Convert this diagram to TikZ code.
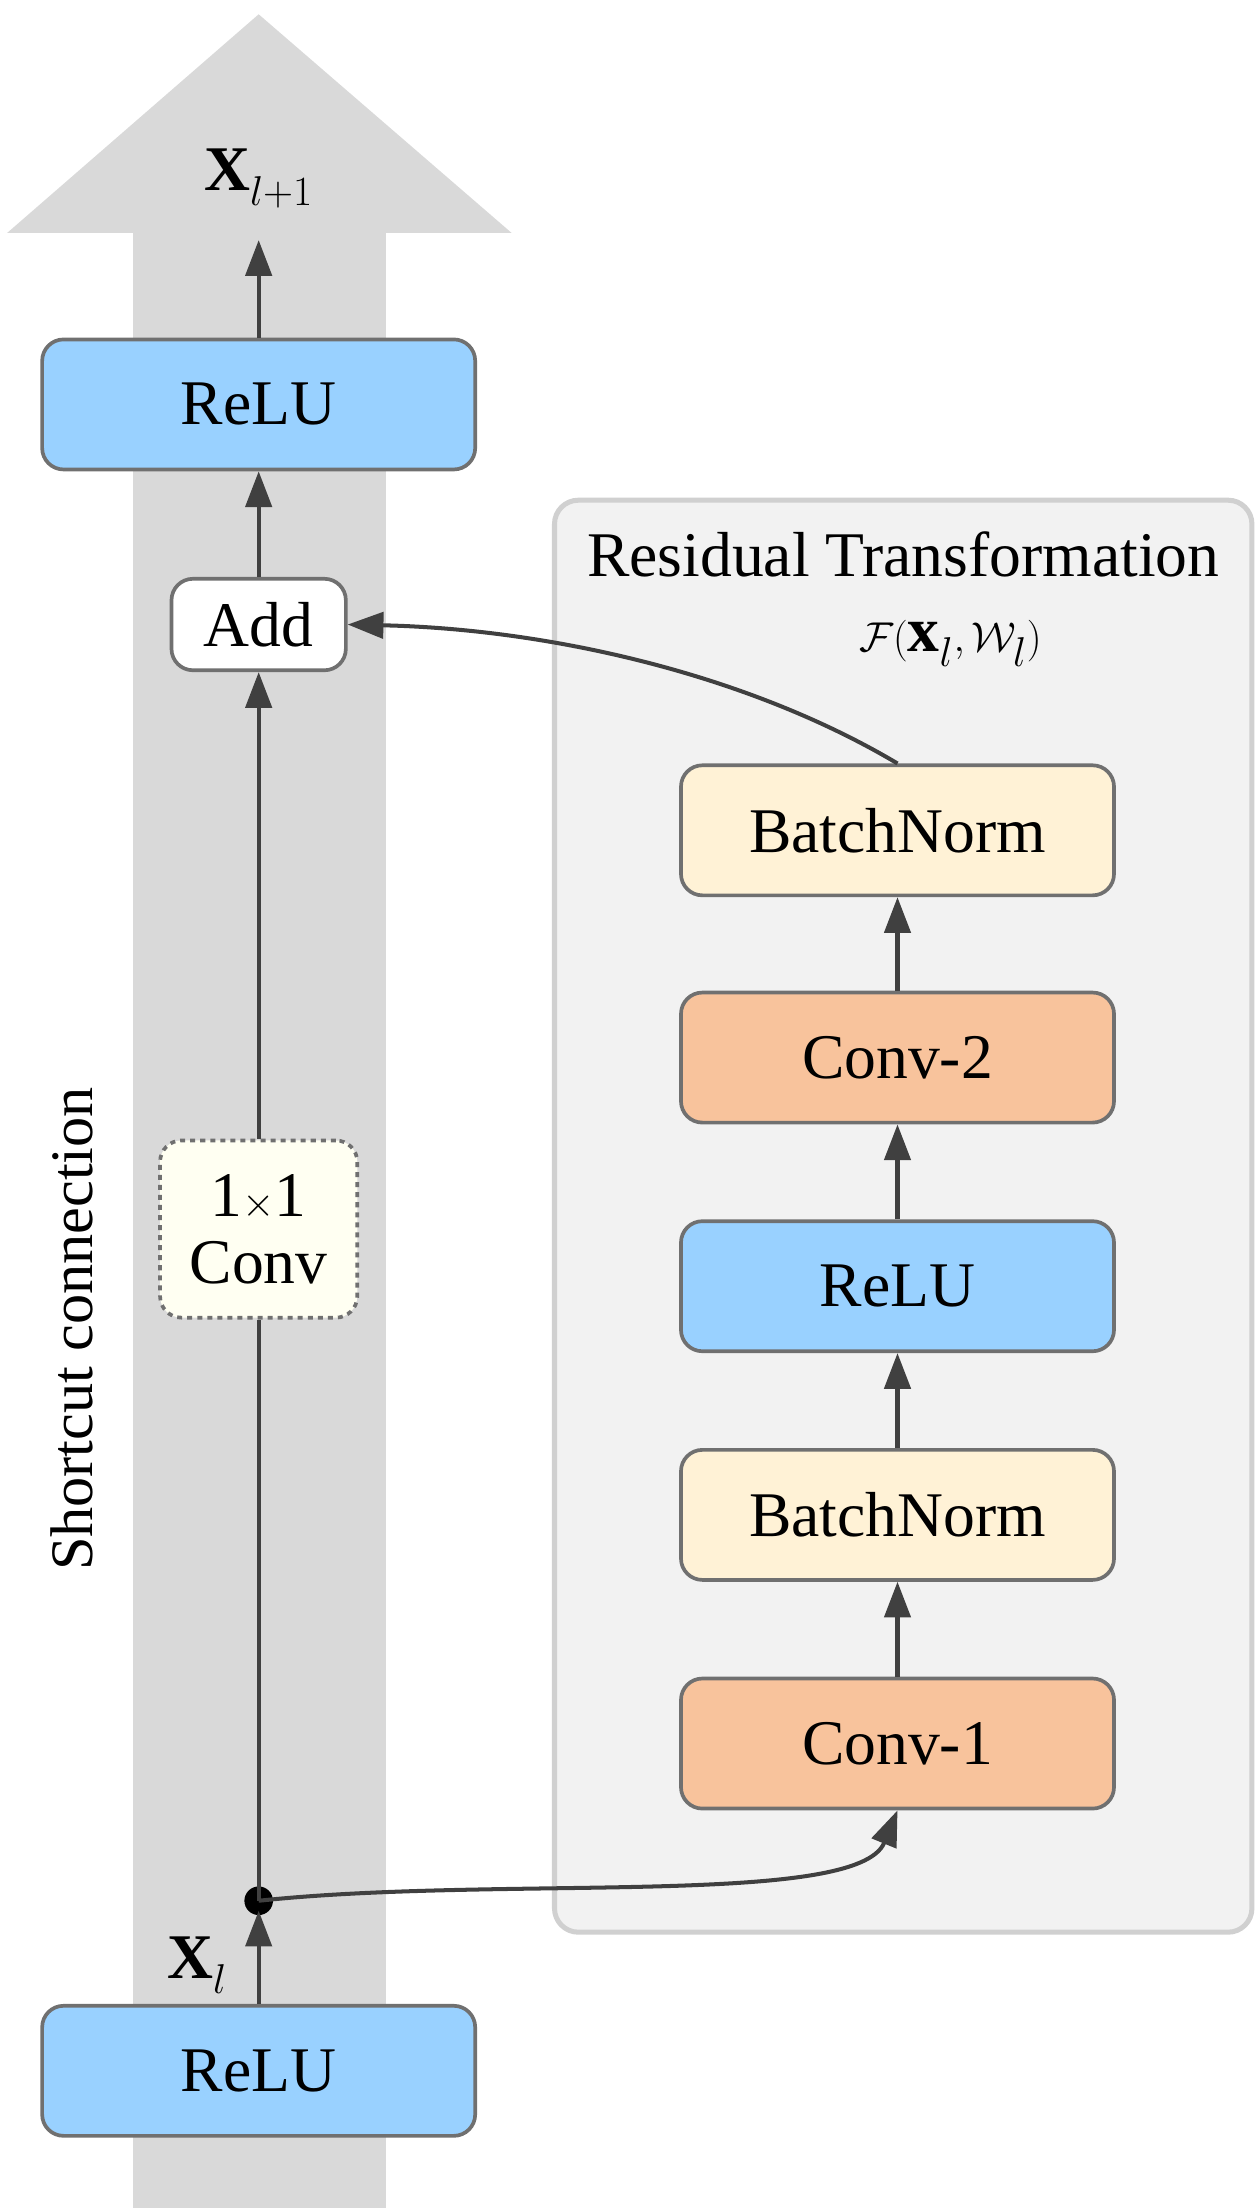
\documentclass[tikz,border=0pt]{standalone}
\usepackage{fontspec}
\setmainfont{Liberation Serif}
\usetikzlibrary{arrows.meta}
\definecolor{shaftgray}{HTML}{D9D9D9}
\definecolor{panelgray}{HTML}{F2F2F2}
\definecolor{panelline}{HTML}{D0D0D0}
\definecolor{boxline}{HTML}{707070}
\definecolor{relublue}{HTML}{99D1FF}
\definecolor{bnyellow}{HTML}{FFF2D6}
\definecolor{convorange}{HTML}{F8C39C}
\definecolor{convcream}{HTML}{FFFFF2}
\definecolor{arrowgray}{HTML}{404040}
\tikzset{
  block/.style={draw=boxline, line width=2.2pt, rounded corners=0.45cm,
    minimum width=9.09cm, minimum height=2.73cm, font=\fontsize{38}{44}\selectfont},
  flow/.style={draw=arrowgray, line width=2.4pt, -{Triangle[length=0.75cm,width=0.55cm]}},
  line/.style={draw=arrowgray, line width=2.4pt}
}
\begin{document}
\begin{tikzpicture}[x=0.03cm,y=-0.03cm]
\useasboundingbox (0,0) rectangle (880,1545);

% Shortcut arrow in background
\fill[shaftgray] (93,1545) rectangle (270,163);
\fill[shaftgray] (5,163) -- (181,10) -- (358,163) -- cycle;
\node[rotate=90, font=\fontsize{36}{42}\selectfont] (sclabel) at (50,930) {Shortcut connection};

% Residual panel
\draw[panelline, fill=panelgray, line width=3pt, rounded corners=0.5cm] (388,350) rectangle (876,1352);
\node[font=\fontsize{38}{44}\selectfont] (rtitle) at (632,388) {Residual Transformation};
\node[font=\fontsize{38}{44}\selectfont] (rfunc) at (665,450) {$\mathcal{F}(\mathbf{x}_l,\mathcal{W}_l)$};

% Shortcut path blocks
\node[block, fill=relublue] (relutop) at (181,283) {ReLU};
\node[block, fill=white, minimum width=3.66cm, minimum height=1.92cm] (add) at (181,437) {Add};
\node[block, fill=convcream, dashed, minimum width=4.14cm, minimum height=3.72cm, align=center,
  font=\fontsize{38}{40}\selectfont] (conv11) at (181,860) {1$\times$1\\Conv};
\node[block, fill=relublue] (relubot) at (181,1449) {ReLU};
\node[font=\fontsize{38}{44}\selectfont] (xout) at (181,125) {$\mathbf{X}_{l+1}$};
\node[font=\fontsize{38}{44}\selectfont] (xin) at (138,1375) {$\mathbf{X}_l$};
\coordinate (top) at (181,168);
\fill[black] (181,1330) circle (0.3cm) coordinate (split);

% Residual blocks
\node[block, fill=bnyellow] (bn2) at (628,581) {BatchNorm};
\node[block, fill=convorange] (conv2) at (628,740) {Conv-2};
\node[block, fill=relublue] (relumid) at (628,900) {ReLU};
\node[block, fill=bnyellow] (bn1) at (628,1060) {BatchNorm};
\node[block, fill=convorange] (conv1) at (628,1220) {Conv-1};

% Connections
\draw[flow] (relubot.north) -- (181,1337);
\draw[line] (split) -- (conv11.south);
\draw[flow] (conv11.north) -- (add.south);
\draw[flow] (add.north) -- (relutop.south);
\draw[flow] (relutop.north) -- (top);
\draw[flow] (split) .. controls (350,1312) and (600,1335) .. (conv1.south);
\draw[flow] (conv1.north) -- (bn1.south);
\draw[flow] (bn1.north) -- (relumid.south);
\draw[flow] (relumid.north) -- (conv2.south);
\draw[flow] (conv2.north) -- (bn2.south);
\draw[flow] (bn2.north) .. controls (520,470) and (380,440) .. (add.east);

\end{tikzpicture}
\end{document}
